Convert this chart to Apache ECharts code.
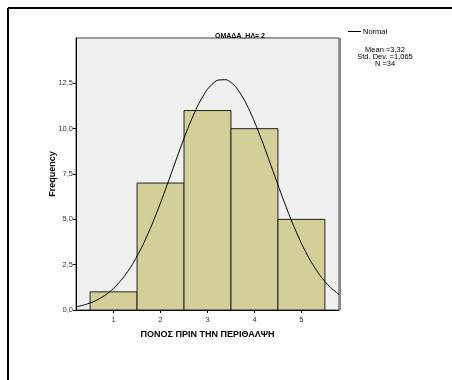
<!DOCTYPE html>
<html>
<head>
<meta charset="utf-8">
<script src="https://cdn.jsdelivr.net/npm/echarts@6/dist/echarts.min.js"></script>
<style>
html,body{margin:0;padding:0;background:#fff;}
#chart{width:452px;height:380px;}
</style>
</head>
<body>
<div id="chart"></div>
<script>
var myChart = echarts.init(document.getElementById('chart'));

// histogram bins (category value, frequency)
var binCenters = [1, 2, 3, 4, 5];
var binCounts = [1, 7, 11, 10, 5];

// normal curve
var curveX = [0.2,0.4,0.6,0.8,1.0,1.2,1.4,1.6,1.8,2.0,2.2,2.4,2.6,2.8,3.0,3.2,3.4,3.6,3.8,4.0,4.2,4.4,4.6,4.8,5.0,5.2,5.4,5.6,5.8];
var curveY = [0.17,0.30,0.49,0.78,1.19,1.76,2.51,3.46,4.60,5.91,7.33,8.77,10.14,11.31,12.18,12.66,12.70,12.31,11.51,10.39,9.06,7.62,6.19,4.85,3.67,2.68,1.89,1.29,0.85];

var yTicks = [0, 2.5, 5, 7.5, 10, 12.5];
var xTicks = [1, 2, 3, 4, 5];

var barData = [];
for (var i = 0; i < binCenters.length; i++) barData.push([binCenters[i], binCounts[i]]);
var curveData = [];
for (var i = 0; i < curveX.length; i++) curveData.push([curveX[i], curveY[i]]);

var font = 'Liberation Sans';

var option = {
    backgroundColor: '#fff',
    animation: false,
    title: {
        text: 'ΟΜΑΔΑ_ΗΛ= 2',
        left: 235,
        top: 28,
        textAlign: 'center',
        textStyle: {fontFamily: font, fontSize: 7, fontWeight: 'bold', color: '#000'}
    },
    grid: {
        left: 76, top: 38, right: 113, bottom: 70,
        show: true,
        backgroundColor: '#f0f0f0',
        borderColor: '#444',
        borderWidth: 1
    },
    xAxis: {
        type: 'value',
        min: 0.2,
        max: 5.8,
        name: 'ΠΟΝΟΣ ΠΡΙΝ ΤΗΝ ΠΕΡΙΘΑΛΨΗ',
        nameLocation: 'middle',
        nameGap: 20,
        nameTextStyle: {fontFamily: font, fontSize: 9, fontWeight: 'bold', color: '#000'},
        axisLine: {show: true, onZero: false, lineStyle: {color: '#000', width: 1}},
        axisTick: {show: true, length: 3, customValues: xTicks, lineStyle: {color: '#000'}},
        axisLabel: {customValues: xTicks, fontFamily: font, fontSize: 7.5, color: '#333', margin: 6},
        splitLine: {show: false}
    },
    yAxis: {
        type: 'value',
        min: 0,
        max: 15,
        name: 'Frequency',
        nameLocation: 'middle',
        nameGap: 19,
        nameMoveOverlap: false,
        nameRotate: 90,
        nameTextStyle: {fontFamily: font, fontSize: 9, fontWeight: 'bold', color: '#000'},
        axisLine: {show: true, lineStyle: {color: '#000', width: 1}},
        axisTick: {show: true, length: 3, customValues: yTicks, lineStyle: {color: '#000'}},
        axisLabel: {
            customValues: yTicks,
            fontFamily: font, fontSize: 7.5, color: '#333', margin: 3,
            formatter: function (v) { return v.toFixed(1).replace('.', ','); }
        },
        splitLine: {show: false}
    },
    graphic: [
        {type: 'line', shape: {x1: 8, y1: 8, x2: 452, y2: 8}, style: {stroke: '#000', lineWidth: 2}},
        {type: 'line', shape: {x1: 8, y1: 8, x2: 8, y2: 380}, style: {stroke: '#000', lineWidth: 2}},
        {type: 'line', shape: {x1: 340, y1: 38, x2: 340, y2: 310}, style: {stroke: '#888', lineWidth: 2}},
        {type: 'line', shape: {x1: 348, y1: 31.5, x2: 361, y2: 31.5}, style: {stroke: '#000', lineWidth: 1}},
        {type: 'text', left: 363, top: 28, style: {text: 'Normal', font: '7.5px ' + font, fill: '#000'}},
        {type: 'text', x: 385, y: 46, style: {text: 'Mean =3,32\nStd. Dev. =1,065\nN =34', font: '7.5px ' + font, fill: '#000', textAlign: 'center', lineHeight: 7}}
    ],
    series: [
        {
            type: 'custom',
            data: barData,
            renderItem: function (params, api) {
                var x = api.value(0), h = api.value(1);
                var p0 = api.coord([x - 0.5, 0]);
                var p1 = api.coord([x + 0.5, h]);
                return {
                    type: 'rect',
                    shape: {x: p0[0], y: p1[1], width: p1[0] - p0[0], height: p0[1] - p1[1]},
                    style: {fill: '#d4cf98', stroke: '#222', lineWidth: 1}
                };
            },
            z: 2
        },
        {
            type: 'line',
            data: curveData,
            smooth: 0.2,
            symbol: 'none',
            lineStyle: {color: '#000', width: 1},
            z: 3
        }
    ]
};
myChart.setOption(option);
</script>
</body>
</html>
